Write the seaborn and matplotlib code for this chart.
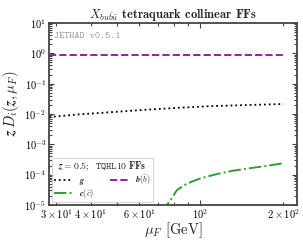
import matplotlib
matplotlib.use("Agg")
import matplotlib.pyplot as plt
import seaborn as sns
import pandas as pd

# ---- data ----
mu_gb = [28.3, 29.0, 36.2, 47.9, 63.2, 83.4, 110.3, 145.6, 195.0, 200.0]
g_vals = [0.0080, 0.0081, 0.0097, 0.01156, 0.0138, 0.0160, 0.0182, 0.0197, 0.0212, 0.0213]
b_vals = [0.88, 0.88, 0.88, 0.88, 0.88, 0.88, 0.88, 0.88, 0.88, 0.88]

mu_c = [75.0, 75.7, 77.9, 82.3, 89.5, 100.0, 115.0, 131.7, 151.8, 174.5, 195.0, 200.0]
c_vals = [5.0e-6, 1.0e-5, 1.44e-5, 3.1e-5, 5.1e-5, 7.5e-5, 1.05e-4, 1.35e-4,
          1.64e-4, 1.95e-4, 2.3e-4, 2.35e-4]

xlim = (28.3, 224.0)
ylim = (1e-5, 1e1)

sns.set_style("ticks")
plt.rcParams.update({
    "font.family": ["cmr10", "DejaVu Serif"],
    "mathtext.fontset": "cm",
    "axes.formatter.use_mathtext": True,
    "xtick.direction": "in",
    "ytick.direction": "in",
    "xtick.top": True,
    "ytick.right": True,
    "axes.edgecolor": "#444444",
    "axes.linewidth": 1.3,
})

fig = plt.figure(figsize=(3.03, 2.40), dpi=100)
ax = fig.add_axes([0.162, 0.146, 0.818, 0.758])

df_g = pd.DataFrame({"mu": mu_gb, "v": g_vals})
df_b = pd.DataFrame({"mu": mu_gb, "v": b_vals})
df_c = pd.DataFrame({"mu": mu_c, "v": c_vals})

sns.lineplot(data=df_g, x="mu", y="v", ax=ax, color="black", lw=1.3,
             linestyle=":", label=r"$\boldsymbol{g}$")
sns.lineplot(data=df_c, x="mu", y="v", ax=ax, color="#2f9e2f", lw=1.4,
             linestyle="-.", label=r"$\boldsymbol{c(\bar{c})}$")
sns.lineplot(data=df_b, x="mu", y="v", ax=ax, color="#a01aa0", lw=1.4,
             linestyle="--", label=r"$\boldsymbol{b(\bar{b})}$")

ax.set_xscale("log")
ax.set_yscale("log")
ax.set_xlim(*xlim)
ax.set_ylim(*ylim)

ax.tick_params(which="both", labelsize=7.5, width=0.8, colors="#444444",
               labelcolor="black", pad=2)
ax.tick_params(which="major", length=3.5)
ax.tick_params(which="minor", length=2)

ax.set_xlabel(r"$\boldsymbol{\mu_F}$ [GeV]", fontsize=10.5, labelpad=-1)
ax.set_ylabel(r"$\boldsymbol{z\,D_i(z,\mu_F)}$", fontsize=10.5)
ax.yaxis.set_label_coords(-0.115, 0.56)
ax.set_title(r"$\boldsymbol{X_{bu\bar{b}\bar{u}}}$ tetraquark collinear FFs",
             fontsize=9, fontfamily="cmb10", pad=3)

ax.text(0.02, 0.95, "JETHAD v0.5.1", transform=ax.transAxes, fontsize=7,
        fontfamily="cmtt10", color="#999999", va="top", ha="left")

leg = ax.legend(ncol=2, loc="lower left", fontsize=6,
                title=r"$\boldsymbol{z = 0.5;}\ \ \mathtt{TQHL10}\ \mathbf{FFs}$",
                title_fontsize=7, frameon=True, fancybox=True,
                borderaxespad=0.3, handlelength=2.2, columnspacing=2.0,
                labelspacing=0.05, borderpad=0.25, handletextpad=0.8)
leg.get_frame().set_edgecolor("#cccccc")
leg.get_frame().set_linewidth(0.8)

fig.savefig("out.png", dpi=100)
